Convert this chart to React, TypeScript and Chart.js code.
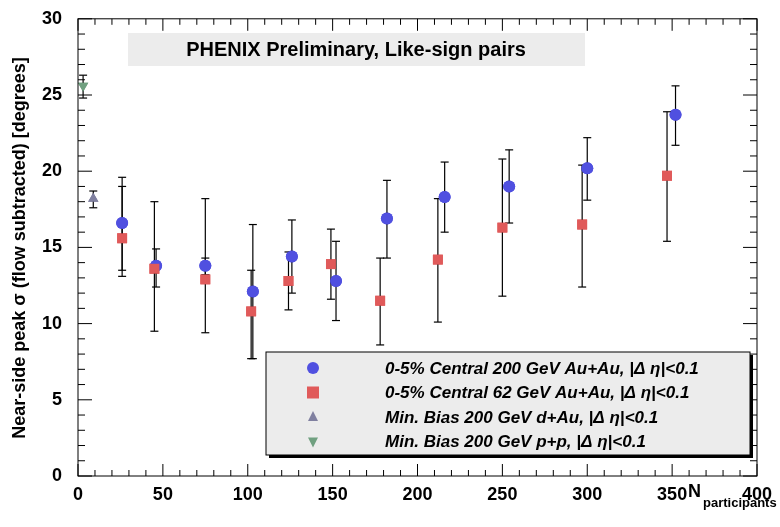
import React, { useEffect, useRef } from "react";
import { Chart, registerables } from "chart.js";
Chart.register(...registerables);

const auX = [26, 46, 75, 103, 126, 152, 182, 216, 254, 300, 352];
const auY = [16.6, 13.8, 13.8, 12.1, 14.4, 12.8, 16.9, 18.3, 19.0, 20.2, 23.7];
const auLo = [13.5, 12.4, 13.2, 7.7, 12.0, 10.2, 14.3, 16.0, 16.6, 18.1, 21.7];
const auHi = [19.6, 14.9, 14.3, 16.5, 16.8, 15.4, 19.4, 20.6, 21.4, 22.2, 25.6];
const au62X = [26, 45, 75, 102, 124, 149, 178, 212, 250, 297, 347];
const au62Y = [15.6, 13.6, 12.9, 10.8, 12.8, 13.9, 11.5, 14.2, 16.3, 16.5, 19.7];
const au62Lo = [13.1, 9.5, 9.4, 7.7, 10.9, 11.6, 8.6, 10.1, 11.8, 12.4, 15.4];
const au62Hi = [19.0, 18.0, 18.2, 13.5, 14.7, 16.2, 14.3, 18.2, 20.8, 20.4, 23.9];
const dauX = [9], dauY = [18.2], dauLo = [17.6], dauHi = [18.7];
const ppX = [3], ppY = [25.6], ppLo = [24.8], ppHi = [26.3];
const labels = [
  "0-5% Central 200 GeV Au+Au, |\u0394 \u03b7|<0.1",
  "0-5% Central 62 GeV Au+Au, |\u0394 \u03b7|<0.1",
  "Min. Bias 200 GeV d+Au, |\u0394 \u03b7|<0.1",
  "Min. Bias 200 GeV p+p, |\u0394 \u03b7|<0.1",
];
const colors = ["#5050e0", "#e05a5a", "#8080a0", "#70a080"];
const styles = ["circle", "rect", "triangle", "triangle"];

const mk = (xs: number[], ys: number[], lo: number[], hi: number[]) =>
  xs.map((x, i) => ({ x, y: ys[i], lo: lo[i], hi: hi[i] }));

const F = "'Liberation Sans', Arial, sans-serif";

const plugin = {
  id: "deco",
  afterDatasetsDraw(c: any) {
    const ctx = c.ctx, xs = c.scales.x, ys = c.scales.y, a = c.chartArea;
    ctx.save();
    ctx.strokeStyle = "#000"; ctx.lineWidth = 1.2;
    c.data.datasets.forEach((d: any) => {
      d.data.forEach((p: any) => {
        const px = xs.getPixelForValue(p.x);
        ctx.beginPath();
        ctx.moveTo(px, ys.getPixelForValue(p.lo));
        ctx.lineTo(px, ys.getPixelForValue(p.hi));
        ctx.stroke();
        [p.lo, p.hi].forEach((v) => {
          const py = ys.getPixelForValue(v);
          ctx.beginPath(); ctx.moveTo(px - 4, py); ctx.lineTo(px + 4, py); ctx.stroke();
        });
      });
    });
    c.data.datasets.forEach((d: any, di: number) => {
      c.getDatasetMeta(di).data.forEach((el: any) => el.draw(ctx));
    });
    ctx.restore();
    ctx.save();
    ctx.strokeStyle = "#000"; ctx.lineWidth = 1;
    ctx.strokeRect(a.left, a.top, a.right - a.left, a.bottom - a.top);
    for (let v = 0; v <= 400; v += 10) {
      const px = xs.getPixelForValue(v), L = v % 50 === 0 ? 12 : 6;
      ctx.beginPath(); ctx.moveTo(px, a.bottom); ctx.lineTo(px, a.bottom - L);
      ctx.moveTo(px, a.top); ctx.lineTo(px, a.top + L); ctx.stroke();
    }
    for (let v = 0; v <= 30; v += 1) {
      const py = ys.getPixelForValue(v), L = v % 5 === 0 ? 14 : 7;
      ctx.beginPath(); ctx.moveTo(a.left, py); ctx.lineTo(a.left + L, py);
      ctx.moveTo(a.right, py); ctx.lineTo(a.right - L, py); ctx.stroke();
    }
    ctx.fillStyle = "#ececec"; ctx.fillRect(128, 33, 457, 33);
    ctx.fillStyle = "#000"; ctx.font = `bold 20px ${F}`;
    ctx.textAlign = "center"; ctx.textBaseline = "middle";
    ctx.fillText("PHENIX Preliminary, Like-sign pairs", 356, 50);
    ctx.fillStyle = "#ececec"; ctx.fillRect(266, 352, 484, 103);
    ctx.strokeRect(266, 352, 484, 103);
    ctx.fillStyle = "#000"; ctx.fillRect(750, 355, 3, 103); ctx.fillRect(269, 455, 484, 3);
    ctx.font = `italic bold 17px ${F}`; ctx.textAlign = "left";
    labels.forEach((t, i) => {
      const yy = 368 + i * 24.5;
      ctx.fillStyle = colors[i];
      const cx = 313;
      ctx.beginPath();
      if (i === 0) ctx.arc(cx, yy, 6, 0, Math.PI * 2);
      else if (i === 1) ctx.rect(cx - 6, yy - 6, 12, 12);
      else if (i === 2) { ctx.moveTo(cx, yy - 6); ctx.lineTo(cx + 5, yy + 4); ctx.lineTo(cx - 5, yy + 4); }
      else { ctx.moveTo(cx, yy + 6); ctx.lineTo(cx + 5, yy - 4); ctx.lineTo(cx - 5, yy - 4); }
      ctx.fill();
      ctx.fillStyle = "#000"; ctx.fillText(t, 385, yy + 1);
    });
    ctx.font = `bold 18px ${F}`; ctx.textAlign = "left";
    ctx.fillText("N", 688, 492);
    ctx.font = `bold 13px ${F}`;
    ctx.fillText("participants", 703, 503);
    ctx.translate(20, 248); ctx.rotate(-Math.PI / 2);
    ctx.font = `bold 18px ${F}`; ctx.textAlign = "center";
    ctx.fillText("Near-side peak \u03c3 (flow subtracted) [degrees]", 0, 0);
    ctx.restore();
  },
};

export default function App() {
  const ref = useRef<HTMLCanvasElement>(null);
  useEffect(() => {
    const ds = [
      mk(auX, auY, auLo, auHi), mk(au62X, au62Y, au62Lo, au62Hi),
      mk(dauX, dauY, dauLo, dauHi), mk(ppX, ppY, ppLo, ppHi),
    ].map((data, i) => ({
      label: labels[i], data, showLine: false,
      pointStyle: styles[i], pointRotation: i === 3 ? 180 : 0,
      pointRadius: i === 1 ? 7 : 6, backgroundColor: colors[i], borderColor: colors[i], borderWidth: 0,
    }));
    const ch = new Chart(ref.current!, {
      type: "scatter",
      data: { datasets: ds as any },
      options: {
        animation: false, responsive: false,
        layout: { padding: { top: 16, right: 23 } },
        plugins: { legend: { display: false }, tooltip: { enabled: false } },
        scales: {
          x: {
            min: 0, max: 400,
            afterFit: (s: any) => { s.height = 51; },
            grid: { display: false }, border: { display: false },
            ticks: { stepSize: 50, color: "#000", font: { family: F, size: 18, weight: "bold" }, padding: 0, maxRotation: 0 },
          },
          y: {
            min: 0, max: 30,
            afterFit: (s: any) => { s.width = 78; },
            grid: { display: false }, border: { display: false },
            ticks: { stepSize: 5, color: "#000", font: { family: F, size: 18, weight: "bold" }, padding: 8 },
          },
        },
      },
      plugins: [plugin],
    });
    return () => ch.destroy();
  }, []);
  return (
    <div style={{ position: "fixed", left: 0, top: 0, width: 780, height: 527, background: "#fff" }}>
      <canvas ref={ref} width={780} height={527} style={{ display: "block" }} />
    </div>
  );
}
